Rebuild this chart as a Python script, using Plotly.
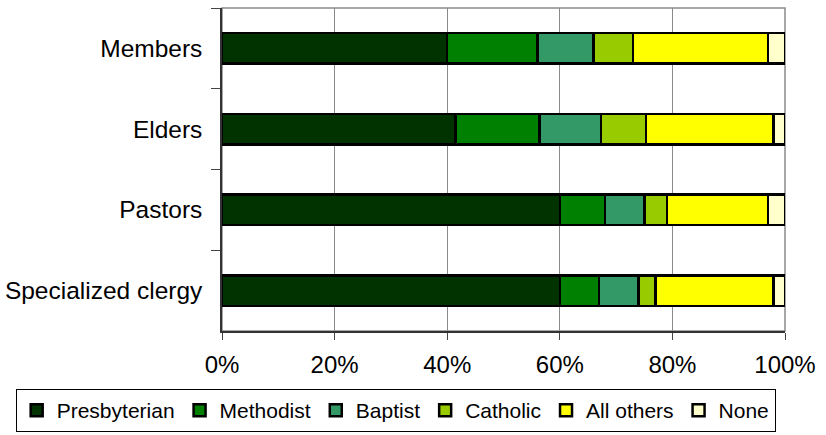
import plotly.graph_objects as go

# Share of each group by church affiliation (percent of group)
groups = ["Members", "Elders", "Pastors", "Specialized clergy"]
presbyterian = [40, 41.5, 60, 60]
methodist = [16, 14.9, 8, 7]
baptist = [10, 10.9, 7, 7]
catholic = [7, 8.0, 4, 3]
all_others = [24, 22.7, 18, 21]
none = [3, 2.0, 3, 2]

series = [
    ("Presbyterian", presbyterian, "#003300"),
    ("Methodist", methodist, "#008000"),
    ("Baptist", baptist, "#339966"),
    ("Catholic", catholic, "#99CC00"),
    ("All others", all_others, "#FFFF00"),
    ("None", none, "#FFFFCC"),
]

FONT = "Liberation Sans, Arial, sans-serif"
W, H = 826, 435
L, R, T, B = 221.5, 41, 8, 104
PW, PH = W - L - R, H - T - B

fig = go.Figure()
for name, vals, color in series:
    fig.add_trace(go.Bar(
        y=groups, x=vals, name=name, orientation="h",
        marker=dict(color=color, line=dict(color="#000000", width=2.5)),
    ))

# light frame on the top and right of the plot area
fig.add_shape(type="rect", xref="x domain", yref="y domain",
              x0=0, x1=1, y0=0, y1=1, line=dict(color="#8a8a8a", width=1.5),
              layer="below")

fig.update_layout(
    barmode="stack",
    bargap=0.62,
    width=W, height=H,
    margin=dict(l=L, r=R, t=T, b=B, autoexpand=False),
    paper_bgcolor="white",
    plot_bgcolor="white",
    font=dict(family=FONT, color="#000000"),
    xaxis=dict(
        range=[0, 100],
        tickvals=[0, 20, 40, 60, 80, 100],
        ticktext=["0%", "20%", "40%", "60%", "80%", "100%"],
        showgrid=True, gridcolor="#8a8a8a", gridwidth=1,
        showline=True, linecolor="#333333", linewidth=1.5,
        ticks="outside", ticklen=7, tickcolor="#444444", tickwidth=1,
        tickfont=dict(size=24, family=FONT, color="#000000"),
        ticklabelstandoff=4,
        zeroline=False,
        automargin=False,
        fixedrange=True,
    ),
    yaxis=dict(
        categoryorder="array", categoryarray=groups,
        autorange="reversed",
        tickson="boundaries",
        ticks="outside", ticklen=9, tickcolor="#444444", tickwidth=1,
        showline=True, linecolor="#333333", linewidth=1.5,
        showgrid=False,
        tickfont=dict(size=24.5, family=FONT, color="#000000"),
        ticklabelstandoff=13,
        automargin=False,
        fixedrange=True,
    ),
    legend=dict(
        orientation="h",
        x=(15 - L) / PW, xanchor="left",
        y=((H - B) - 432) / PH, yanchor="bottom",
        bgcolor="white", bordercolor="#000000", borderwidth=1,
        font=dict(size=21, family=FONT, color="#000000"),
        traceorder="normal",
    ),
    showlegend=True,
)

fig.write_html("out.html")
